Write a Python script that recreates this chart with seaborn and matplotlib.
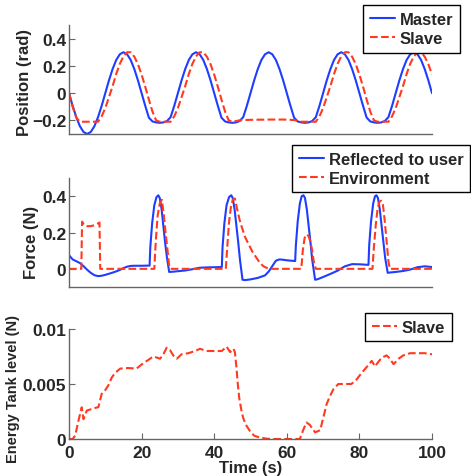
import seaborn as sns
import matplotlib
matplotlib.use('Agg')
import matplotlib.pyplot as plt

# ---- values ----
# position plot, sampled once per second
time_pos = list(range(0, 101))
master = [0, -0.093, -0.176, -0.243, -0.285, -0.3, -0.285, -0.243, -0.176, -0.093,
          0, 0.093, 0.176, 0.243, 0.285, 0.3, 0.285, 0.243, 0.176, 0.093,
          0, -0.093, -0.18, -0.208, -0.215, -0.218, -0.215, -0.205, -0.176, -0.093,
          0, 0.093, 0.176, 0.243, 0.285, 0.3, 0.285, 0.243, 0.176, 0.093,
          0, -0.093, -0.18, -0.208, -0.215, -0.218, -0.215, -0.205, -0.176, -0.093,
          0, 0.093, 0.176, 0.243, 0.285, 0.3, 0.285, 0.243, 0.176, 0.093,
          0, -0.093, -0.18, -0.208, -0.215, -0.218, -0.215, -0.205, -0.176, -0.093,
          0, 0.093, 0.176, 0.243, 0.285, 0.3, 0.285, 0.243, 0.176, 0.093,
          0, -0.093, -0.18, -0.208, -0.215, -0.218, -0.215, -0.205, -0.176, -0.093,
          0, 0.093, 0.176, 0.243, 0.285, 0.3, 0.285, 0.243, 0.176, 0.093,
          0]
slave = [0, -0.1, -0.18, -0.21, -0.21, -0.21, -0.21, -0.21, -0.21, -0.17,
         -0.11, -0.03, 0.05, 0.14, 0.215, 0.27, 0.3, 0.3, 0.267, 0.212,
         0.136, 0.047, -0.047, -0.136, -0.2, -0.21, -0.21, -0.21, -0.21, -0.17,
         -0.11, -0.03, 0.05, 0.14, 0.215, 0.27, 0.3, 0.3, 0.267, 0.212,
         0.136, 0.047, -0.047, -0.136, -0.2, -0.21, -0.205, -0.2, -0.198, -0.197,
         -0.196, -0.196, -0.195, -0.195, -0.195, -0.194, -0.194, -0.194, -0.194, -0.194,
         -0.195, -0.196, -0.198, -0.203, -0.21, -0.21, -0.21, -0.21, -0.21, -0.17,
         -0.11, -0.03, 0.05, 0.14, 0.215, 0.27, 0.3, 0.3, 0.267, 0.212,
         0.136, 0.047, -0.047, -0.136, -0.2, -0.21, -0.21, -0.21, -0.21, -0.17,
         -0.11, -0.03, 0.05, 0.14, 0.215, 0.27, 0.3, 0.3, 0.267, 0.212,
         0.136]

# force plot
time_ref = [0, 1, 2, 3, 4, 5, 6, 7, 8, 9, 10, 11, 12, 13, 14, 15, 16, 17, 18, 20,
            22.2, 22.4, 22.9, 23.5, 24.1, 24.6, 25, 25.5, 26, 26.5, 27, 27.6, 28.5,
            30, 32, 34, 36, 38, 40,
            42.1, 42.3, 42.8, 43.4, 44.1, 44.7, 45.1, 45.6, 46.1, 46.6, 47.1, 47.8, 48.5,
            50, 52, 54, 55, 56, 57, 58, 59, 60,
            62.3, 62.5, 63, 63.6, 64.1, 64.6, 65, 65.5, 66, 66.5, 67, 67.8, 68.5,
            70, 72, 74, 76, 78, 80,
            82.5, 82.7, 83.2, 83.8, 84.3, 84.7, 85.1, 85.6, 86.1, 86.6, 87.1, 87.8, 88.5,
            90, 92, 94, 96, 98, 100]
reflected = [0.075, 0.052, 0.042, 0.032, 0.015, -0.005, -0.022, -0.035, -0.04, -0.038,
             -0.033, -0.027, -0.021, -0.014, -0.006, 0.004, 0.012, 0.016, 0.017, 0.017,
             0.018, 0.12, 0.25, 0.35, 0.395, 0.405, 0.39, 0.33, 0.235, 0.14, 0.06, -0.017, -0.016,
             -0.013, -0.009, -0.002, 0.006, 0.008, 0.009,
             0.01, 0.12, 0.25, 0.35, 0.395, 0.405, 0.39, 0.33, 0.24, 0.15, 0.05, -0.06, -0.062,
             -0.058, -0.05, -0.036, -0.015, 0.015, 0.045, 0.052, 0.05, 0.047,
             0.043, 0.13, 0.26, 0.36, 0.4, 0.405, 0.39, 0.33, 0.24, 0.15, 0.05, -0.06, -0.057,
             -0.045, -0.028, -0.01, 0.014, 0.026, 0.025,
             0.022, 0.13, 0.26, 0.36, 0.4, 0.405, 0.39, 0.33, 0.24, 0.15, 0.06, -0.022, -0.02,
             -0.017, -0.012, -0.004, 0.009, 0.014, 0.01]

time_env = [0, 3.4, 3.6, 4.2, 5, 6, 7, 8, 8.4, 8.6,
            23.5, 23.9, 24.4, 25, 25.6, 26.1, 26.6, 27.1, 27.6, 28,
            43.2, 43.6, 44.1, 44.6, 45.1, 45.7, 46.3, 47, 47.6, 48.5, 49.5, 50.5,
            51.5, 52.5, 53.5, 54.5, 55.5,
            64, 64.4, 64.9, 65.5, 66, 66.5, 67, 67.5, 68,
            83.6, 84, 84.5, 85, 85.5, 86, 86.5, 87, 87.5, 88, 88.4, 100]
environment = [0, 0, 0.26, 0.24, 0.235, 0.235, 0.24, 0.25, 0.255, 0,
               0, 0.15, 0.29, 0.36, 0.38, 0.3, 0.2, 0.11, 0.015, 0,
               0, 0.12, 0.26, 0.34, 0.38, 0.387, 0.33, 0.27, 0.23, 0.175, 0.135, 0.095,
               0.065, 0.035, 0.015, 0.005, 0,
               0, 0.1, 0.17, 0.19, 0.18, 0.15, 0.1, 0.03, 0,
               0, 0.12, 0.24, 0.33, 0.37, 0.375, 0.35, 0.26, 0.15, 0.04, 0, 0]

# energy tank plot
time_tank = [0, 1, 1.7, 2.6, 3.5, 4.0, 4.9, 6.3, 7.2, 8.1, 9.0, 9.9, 10.8, 11.8, 12.7,
             14.1, 16.3, 18.6, 20.5, 21.9, 23.2, 24.2, 25.1, 26.0, 26.9, 27.8, 28.7,
             29.7, 31.0, 32.9, 34.7, 36.1, 37.9, 39.8, 42.1, 43.4, 44.4, 45.3, 45.7,
             46.1, 46.5, 46.9, 47.5, 48.0, 48.7, 49.9, 51.0, 52.1, 53.2, 54.4, 56, 58,
             60, 62, 63.6, 64.5, 65.4, 66.3, 67.8, 69.2, 70.1, 71.0, 71.9, 72.8, 74.2,
             76.0, 77.8, 79.2, 80.6, 81.9, 83.4, 84.3, 85.2, 86.2, 87.5, 88.4, 89.4,
             90.8, 92.1, 94.0, 96.2, 98, 100]
tank = [0, 0, 0.0003, 0.00166, 0.00288, 0.0018, 0.00258, 0.00273, 0.00282, 0.0029,
        0.0041, 0.0044, 0.00485, 0.0056, 0.006, 0.0064, 0.00645, 0.0064, 0.0069,
        0.0072, 0.0075, 0.0074, 0.0073, 0.0077, 0.0083, 0.0081, 0.0076, 0.0073,
        0.0077, 0.0078, 0.008, 0.0082, 0.008, 0.008, 0.008, 0.0084, 0.0079, 0.0082,
        0.0079, 0.0066, 0.005, 0.0037, 0.0026, 0.0019, 0.0013, 0.0007, 0.0003,
        0.00018, 0.0001, 0.00003, 0, 0, 0, 0, 0, 0.0008, 0.0015, 0.0013, 0.0006,
        0.0008, 0.002, 0.0032, 0.0039, 0.0045, 0.005, 0.005, 0.005, 0.0054, 0.006,
        0.0065, 0.0071, 0.0066, 0.007, 0.0074, 0.0076, 0.0073, 0.0068, 0.0073,
        0.0076, 0.0078, 0.0078, 0.0078, 0.0077]

sns.set_style('ticks')
plt.rcParams['font.family'] = ['Liberation Sans', 'DejaVu Sans']
plt.rcParams['font.weight'] = 'bold'
plt.rcParams['axes.labelweight'] = 'bold'

blue = '#1f3dff'
red = '#ff3a1f'
spine_col = '#666666'

fig = plt.figure(figsize=(4.71, 4.77), dpi=100)
ax1 = fig.add_axes([0.1465, 0.717, 0.7707, 0.2285])
ax2 = fig.add_axes([0.1465, 0.3962, 0.7707, 0.2285])
ax3 = fig.add_axes([0.1465, 0.0776, 0.7707, 0.2306])

sns.lineplot(x=time_pos, y=master, ax=ax1, color=blue, lw=1.5, label='Master')
sns.lineplot(x=time_pos, y=slave, ax=ax1, color=red, lw=1.5, linestyle='--', label='Slave')
sns.lineplot(x=time_ref, y=reflected, ax=ax2, color=blue, lw=1.5, label='Reflected to user')
sns.lineplot(x=time_env, y=environment, ax=ax2, color=red, lw=1.5, linestyle='--',
             label='Environment')
sns.lineplot(x=time_tank, y=tank, ax=ax3, color=red, lw=1.5, linestyle='--', label='Slave')

for ax in (ax1, ax2, ax3):
    ax.set_xlim(0, 100)
    for side in ('top', 'right'):
        ax.spines[side].set_visible(False)
    for side in ('left', 'bottom'):
        ax.spines[side].set_color(spine_col)
        ax.spines[side].set_linewidth(1.0)
    ax.tick_params(direction='in', length=4, width=0.8, color=spine_col,
                   labelsize=12.5, pad=2)

ax1.set_ylim(-0.3, 0.5)
ax1.set_yticks([-0.2, 0, 0.2, 0.4], ['\u22120.2', '0', '0.2', '0.4'])
ax1.set_xticks([])
ax1.set_ylabel('Position (rad)', fontsize=12)
ax1.yaxis.set_label_coords(-0.102, 0.486)

ax2.set_ylim(-0.1, 0.5)
ax2.set_yticks([0, 0.2, 0.4], ['0', '0.2', '0.4'])
ax2.set_xticks([])
ax2.set_ylabel('Force (N)', fontsize=12)
ax2.yaxis.set_label_coords(-0.082, 0.42)

ax3.set_ylim(0, 0.01)
ax3.set_yticks([0, 0.005, 0.01], ['0', '0.005', '0.01'])
ax3.set_xticks([0, 20, 40, 60, 80, 100], ['0', '20', '40', '60', '80', '100'])
ax3.tick_params(axis='x', pad=4)
ax3.set_ylabel('Energy Tank level (N)', fontsize=10.5)
ax3.yaxis.set_label_coords(-0.135, 0.46)
ax3.set_xlabel('Time (s)', fontsize=12, labelpad=0)

leg_kw = dict(loc='upper right', bbox_transform=fig.transFigure, fontsize=12,
              frameon=True, fancybox=False, framealpha=1, edgecolor='black',
              borderpad=0.4, labelspacing=0.25, handlelength=1.5, handletextpad=0.3,
              borderaxespad=0)
for ax, anchor in ((ax1, (0.9766, 0.9874)), (ax2, (0.998, 0.694)), (ax3, (0.9597, 0.3417))):
    leg = ax.legend(bbox_to_anchor=anchor, **leg_kw)
    leg.get_frame().set_linewidth(1.0)

fig.savefig('out.png', dpi=100)
